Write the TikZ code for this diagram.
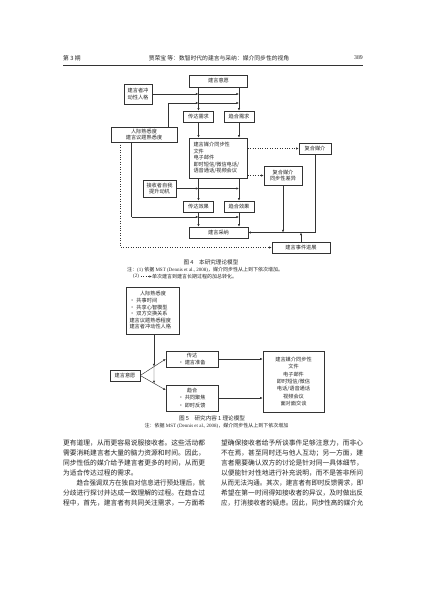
\documentclass[tikz,border=0pt]{standalone}
\usepackage{fontspec}
\usepackage{graphicx}
\setmainfont{Liberation Serif}
\newfontfamily\cjk{Noto Sans CJK SC}
\usetikzlibrary{arrows.meta,calc}
\begin{document}
\begin{tikzpicture}[x=1pt,y=-1pt,
 box/.style={draw=black!80, line width=0.5pt, fill=white, inner sep=0pt, font=\cjk\fontsize{5.2}{6.6}\selectfont, text=black!85, align=center},
 arr/.style={draw=black!80, line width=0.45pt, -{Latex[length=2.6pt,width=2.2pt]}},
 dotarr/.style={arr, dotted},
 ln/.style={draw=black!80, line width=0.45pt},
 body/.style={anchor=west, inner sep=0pt, font=\cjk\fontsize{6.76}{8}\selectfont, text=black!85},
 capt/.style={inner sep=0pt, font=\cjk\fontsize{5.6}{7}\selectfont, text=black!85},
 note/.style={inner sep=0pt, anchor=west, font=\fontsize{5}{6}\selectfont, text=black!85},
 hdr/.style={inner sep=0pt, font=\cjk\fontsize{5.8}{7}\selectfont, text=black!85},
]
\useasboundingbox[fill=white] (0,0) rectangle (427,603);

% ---------- header ----------
\node[hdr, anchor=west] (h1) at (63,58) {第 3 期};
\node[hdr] (h2) at (219,58) {贾荣宝\ 等：数智时代的建言与采纳：媒介同步性的视角};
\node[hdr, anchor=east, font=\fontsize{5.8}{7}\selectfont] (h3) at (363,58) {389};
\draw[ln] (63,65) coordinate (hl) -- (363,65) coordinate (hr);

% ---------- figure 4 ----------
\node[box, minimum width=58pt, minimum height=12pt] (A) at (218.5,81) {建言意愿};
\node[box, minimum width=28pt, minimum height=20pt] (B) at (138,94) {建言者冲\\动性人格};
\node[box, minimum width=66pt, minimum height=15pt] (C) at (144,134.5) {人际熟悉度\\建言议题熟悉度};
\node[box, minimum width=30pt, minimum height=11pt] (D) at (198.5,116.5) {传达需求};
\node[box, minimum width=30pt, minimum height=11pt] (E) at (239,116.5) {趋合需求};
\node[box, minimum width=58pt, minimum height=40pt, align=left, text width=50pt] (F) at (218.5,158) {建言媒介同步性\\文件\\电子邮件\\即时短信/微信电话/\\语音通话/视频会议};
\node[box, minimum width=32pt, minimum height=11pt] (G) at (315,148.5) {复合媒介};
\node[box, minimum width=38pt, minimum height=19pt] (H) at (283,175.5) {复合媒介\\同步性差异};
\node[box, minimum width=33pt, minimum height=17pt] (I) at (159.5,188.5) {接收者自我\\提升动机};
\node[box, minimum width=30pt, minimum height=11pt] (J) at (198.5,206.5) {传达效果};
\node[box, minimum width=30pt, minimum height=11pt] (K) at (239,206.5) {趋合效果};
\node[box, minimum width=59pt, minimum height=11pt] (L) at (218.5,232.5) {建言采纳};
\node[box, minimum width=58pt, minimum height=11pt] (M) at (301,247.5) {建言事件进展};

\draw[arr] (D |- A.south) -- (D.north);
\draw[arr] (E |- A.south) -- (E.north);
\draw[arr] (B.east) -- (B.east -| D);
\draw[arr] (B.east -| D) -- (B.east -| E);
\coordinate (c1) at (168,103);
\draw[ln] (C.north -| c1) -- (c1);
\draw[arr] (c1) -- (c1 -| D);
\draw[arr] (c1 -| D) -- (c1 -| E);
\draw[arr] (D.south) -- (D.south |- F.north);
\draw[arr] (E.south) -- (E.south |- F.north);
\draw[arr] (J |- F.south) -- (J.north);
\draw[arr] (K |- F.south) -- (K.north);
\draw[arr] (I.east) -- (I.east -| J);
\draw[arr] (I.east -| J) -- (I.east -| K);
\draw[arr] (J.south) -- (J.south |- L.north);
\draw[arr] (K.south) -- (K.south |- L.north);
\coordinate (c2) at (131.7,217);
\draw[ln] (C.south -| c2) -- (c2);
\draw[arr] (c2) -- (c2 -| J);
\draw[arr] (c2 -| J) -- (c2 -| K);
\draw[dotarr] (F.east |- G.west) -- (G.west);
\draw[dotarr] (F.east |- H.west) -- (H.west);
\draw[arr] (G.south) -- (G.south |- L.east) -- (L.east);
\draw[arr] (H.south) -- (H.south |- L.east);
\draw[arr] (M.north) -- (M.north |- L.east);
\coordinate (c3) at (120.7,247.5);
\draw[dotarr] (C.south -| c3) -- (c3 |- M.west) -- (M.west);

\node[capt] (cap4) at (211,262.5) {图 4\quad 本研究理论模型};
\node[note] (n1) at (127,269.5) {{\cjk 注：}(1) {\cjk 依据} MST (Dennis et al., 2008){\cjk ，媒介同步性从上到下依次增加。}};
\node[note] (n2a) at (133,276.5) {(2)};
\node[note] (n2b) at (152,276.5) {\cjk 单次建言到建言长期过程的加总转化。};
\draw[dotarr, line width=0.5pt] ([xshift=1.5pt]n2a.east) -- (n2b.west);

% ---------- figure 5 ----------
\node[box, minimum width=53pt, minimum height=47pt, align=left, text width=47pt] (N) at (153,310.5)
 {\makebox[47pt][c]{人际熟悉度}\\• 共事时间\\• 共享心智模型\\• 双方交换关系\\建言议题熟悉程度\\建言者冲动性人格};
\node[box, minimum width=30pt, minimum height=11pt] (O) at (125,375.5) {建言意愿};
\node[box, minimum width=52pt, minimum height=16pt] (P) at (192,359) {传达\\• 建言准备};
\node[box, minimum width=52pt, minimum height=26pt, font=\cjk\fontsize{5.2}{7.4}\selectfont] (Q) at (192,398) {趋合\\• 共同聚焦\\• 即时反馈};
\node[box, minimum width=61pt, minimum height=61pt, font=\cjk\fontsize{5.2}{7.3}\selectfont] (R) at (293.5,381.5)
 {建言媒介同步性\\文件\\电子邮件\\即时短信/微信\\电话/语音通话\\视频会议\\面对面交谈};
\coordinate (q1) at ($(Q.north west)!0.2!(Q.south west)$);
\draw[arr] (O.east) -- (P.west);
\draw[arr] (O.east) -- (q1);
\path (O.east) -- (P.west) coordinate[pos=0.54] (u1);
\path (O.east) -- (q1) coordinate[pos=0.54] (u2);
\draw[arr] (u1 |- N.south) -- (u1);
\draw[arr] (u1) -- (u2);
\draw[arr] (P.east) -- (P.east -| R.west);
\draw[arr] (Q.east) -- (Q.east -| R.west);

\node[capt] (cap5) at (212,418) {图 5\quad 研究内容 1 理论模型};
\node[note, anchor=center] (n5) at (216.5,425.5) {{\cjk 注：依据} MST (Dennis et al., 2008){\cjk ，媒介同步性从上到下依次增加}};

% ---------- body text ----------
\node[body] (l1) at (63,443) {更有道理，从而更容易说服接收者。这些活动都};
\node[body] (l2) at (63,453.1) {需要消耗建言者大量的脑力资源和时间。因此，};
\node[body] (l3) at (63,463.1) {同步性低的媒介给予建言者更多的时间，从而更};
\node[body] (l4) at (63,473.2) {为适合传达过程的需求。};
\node[body] (l5) at (76.5,483.2) {\scalebox{0.95}[1]{趋合强调双方在独自对信息进行预处理后，就}};
\node[body] (l6) at (63,493.3) {分歧进行探讨并达成一致理解的过程。在趋合过};
\node[body] (l7) at (63,503.3) {程中，首先，建言者有共同关注需求，一方面希};

\node[body] (r1) at (221,443) {望确保接收者给予所谈事件足够注意力，而非心};
\node[body] (r2) at (221,453.1) {不在焉，甚至同时还与他人互动；另一方面，建};
\node[body] (r3) at (221,463.1) {言者需要确认双方的讨论是针对同一具体细节，};
\node[body] (r4) at (221,473.2) {以便能针对性地进行补充说明，而不是答非所问};
\node[body] (r5) at (221,483.2) {\scalebox{0.955}[1]{从而无法沟通。其次，建言者有即时反馈需求，即}};
\node[body] (r6) at (221,493.3) {希望在第一时间得知接收者的异议，及时做出反};
\node[body] (r7) at (221,503.3) {\scalebox{0.955}[1]{应，打消接收者的疑虑。因此，同步性高的媒介允}};
\end{tikzpicture}
\end{document}
